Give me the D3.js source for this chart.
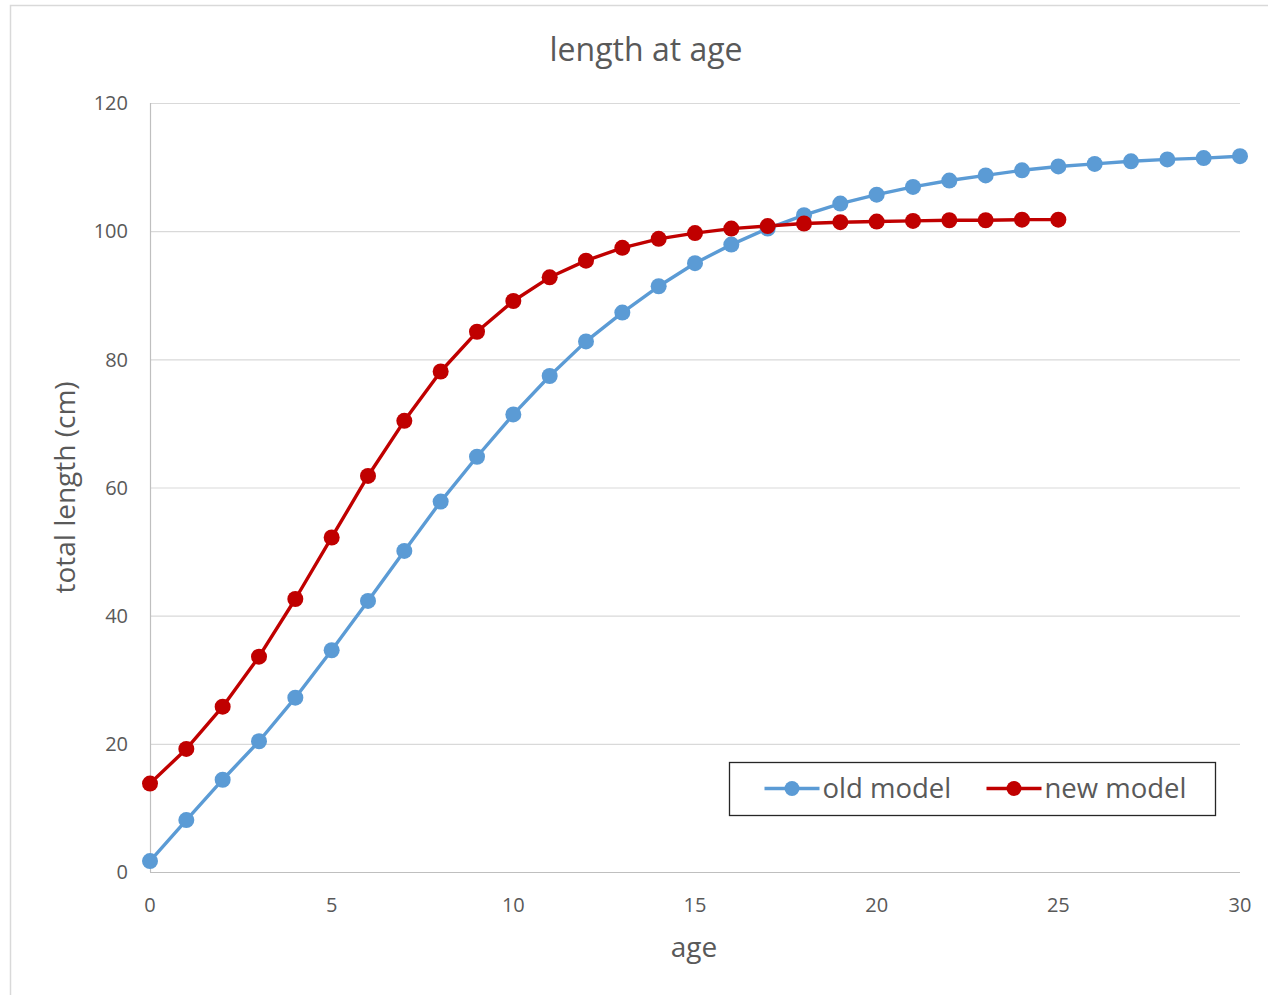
<!DOCTYPE html>
<html>
<head>
<meta charset="utf-8">
<script src="https://cdn.jsdelivr.net/npm/d3@7"></script>
<style>
  body { margin: 0; background: #fff; }
  text { font-family: "Open Sans", "Noto Sans", sans-serif; }
</style>
</head>
<body>
<svg id="chart" width="1268" height="995"></svg>
<script>
// ages and model values
const ages = d3.range(0, 31);
const oldModel = [1.7, 8.1, 14.4, 20.4, 27.2, 34.6, 42.3, 50.1, 57.8, 64.8, 71.4,
  77.4, 82.8, 87.3, 91.4, 95.0, 97.9, 100.4, 102.5, 104.3, 105.7, 106.9, 107.9,
  108.7, 109.5, 110.1, 110.5, 110.9, 111.2, 111.4, 111.7];
const newModel = [13.8, 19.2, 25.8, 33.6, 42.6, 52.2, 61.8, 70.4, 78.1, 84.3, 89.1,
  92.8, 95.4, 97.4, 98.8, 99.7, 100.4, 100.8, 101.2, 101.4, 101.5, 101.6, 101.7,
  101.7, 101.8, 101.8];
const yTicks = [0, 20, 40, 60, 80, 100, 120];
const xTicks = [0, 5, 10, 15, 20, 25, 30];

const series = [
  { name: "old model", values: oldModel, color: "#5b9bd5" },
  { name: "new model", values: newModel, color: "#c00000" }
];

const svg = d3.select("#chart");
const margin = { top: 103, right: 28, bottom: 123, left: 150 };
const width = +svg.attr("width"), height = +svg.attr("height");

// chart frame
svg.append("rect")
  .attr("x", 10.5).attr("y", 5.5)
  .attr("width", width).attr("height", height)
  .attr("fill", "none")
  .attr("stroke", "#d9d9d9")
  .attr("stroke-width", 1.5);

const x = d3.scaleLinear().domain([0, 30]).range([margin.left, width - margin.right]);
const y = d3.scaleLinear().domain([0, 120]).range([height - margin.bottom, margin.top]);

// gridlines
svg.append("g")
  .selectAll("line")
  .data(yTicks.filter(d => d > 0))
  .enter().append("line")
  .attr("x1", x(0)).attr("x2", x(30))
  .attr("y1", d => y(d) + 0.5).attr("y2", d => y(d) + 0.5)
  .attr("stroke", "#d9d9d9")
  .attr("stroke-width", 1.2);

// axes lines
svg.append("line")
  .attr("x1", x(0) + 0.5).attr("x2", x(0) + 0.5)
  .attr("y1", y(120)).attr("y2", y(0))
  .attr("stroke", "#bfbfbf").attr("stroke-width", 1.2);
svg.append("line")
  .attr("x1", x(0)).attr("x2", x(30))
  .attr("y1", y(0) + 0.5).attr("y2", y(0) + 0.5)
  .attr("stroke", "#bfbfbf").attr("stroke-width", 1.2);

// tick labels
svg.append("g")
  .selectAll("text")
  .data(yTicks)
  .enter().append("text")
  .attr("x", x(0) - 22)
  .attr("y", d => y(d))
  .attr("dy", "0.36em")
  .attr("text-anchor", "end")
  .style("font-size", "20px")
  .style("fill", "#595959")
  .text(d => d);

svg.append("g")
  .selectAll("text")
  .data(xTicks)
  .enter().append("text")
  .attr("x", d => x(d))
  .attr("y", y(0) + 40)
  .attr("text-anchor", "middle")
  .style("font-size", "20px")
  .style("fill", "#595959")
  .text(d => d);

// titles
svg.append("text")
  .attr("x", 646).attr("y", 61)
  .attr("text-anchor", "middle")
  .style("font-size", "32px")
  .style("fill", "#595959")
  .text("length at age");

svg.append("text")
  .attr("x", 694).attr("y", 957)
  .attr("text-anchor", "middle")
  .style("font-size", "28px")
  .style("fill", "#595959")
  .text("age");

svg.append("text")
  .attr("transform", `translate(75, ${(y(0) + y(120)) / 2}) rotate(-90)`)
  .attr("text-anchor", "middle")
  .style("font-size", "28px")
  .style("fill", "#595959")
  .text("total length (cm)");

// lines and markers
const line = d3.line()
  .x((d, i) => x(ages[i]))
  .y(d => y(d));

series.forEach(s => {
  const g = svg.append("g");
  g.append("path")
    .datum(s.values)
    .attr("d", line)
    .attr("fill", "none")
    .attr("stroke", s.color)
    .attr("stroke-width", 3.4)
    .attr("stroke-linejoin", "round");
  g.selectAll("circle")
    .data(s.values)
    .enter().append("circle")
    .attr("cx", (d, i) => x(ages[i]))
    .attr("cy", d => y(d))
    .attr("r", 8)
    .attr("fill", s.color);
});

// legend
const legend = svg.append("g").attr("transform", "translate(729.5, 762.5)");
legend.append("rect")
  .attr("width", 486).attr("height", 53)
  .attr("fill", "#fff")
  .attr("stroke", "#262626")
  .attr("stroke-width", 1.3);

const legendX = [35, 257];
series.forEach((s, i) => {
  const item = legend.append("g").attr("transform", `translate(${legendX[i]}, 26)`);
  item.append("line")
    .attr("x1", 0).attr("x2", 55)
    .attr("stroke", s.color).attr("stroke-width", 3.4);
  item.append("circle")
    .attr("cx", 27.5).attr("r", 7.5)
    .attr("fill", s.color);
  item.append("text")
    .attr("x", 58).attr("dy", "0.35em")
    .style("font-size", "27.5px")
    .style("fill", "#595959")
    .text(s.name);
});
</script>
</body>
</html>
